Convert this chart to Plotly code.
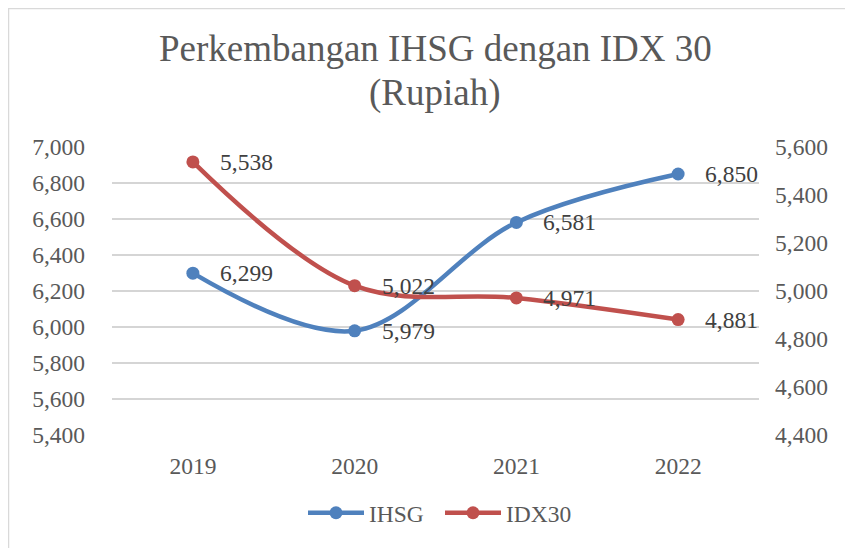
import plotly.graph_objects as go

years = ["2019", "2020", "2021", "2022"]
ihsg = [6299, 5979, 6581, 6850]
idx30 = [5538, 5022, 4971, 4881]
left_ticks = [5400, 5600, 5800, 6000, 6200, 6400, 6600, 6800, 7000]
right_ticks = [4400, 4600, 4800, 5000, 5200, 5400, 5600]

BLUE = "#4F81BD"
RED = "#C0504D"
TXT = "#595959"
FONT = "Liberation Serif, Times New Roman, serif"

fig = go.Figure()
fig.add_trace(go.Scatter(
    x=years, y=ihsg, name="IHSG", mode="lines+markers",
    line=dict(color=BLUE, width=4.5, shape="spline", smoothing=1.0),
    marker=dict(color=BLUE, size=13), yaxis="y",
))
fig.add_trace(go.Scatter(
    x=years, y=idx30, name="IDX30", mode="lines+markers",
    line=dict(color=RED, width=4.5, shape="spline", smoothing=1.0),
    marker=dict(color=RED, size=13), yaxis="y2",
))

annotations = []
for i, yv in enumerate(ihsg):
    annotations.append(dict(x=i, y=yv, xref="x", yref="y", text=f"{yv:,}",
                            showarrow=False, xanchor="left", yanchor="middle",
                            xshift=25, font=dict(family=FONT, size=23.5, color="#404040")))
for i, yv in enumerate(idx30):
    annotations.append(dict(x=i, y=yv, xref="x", yref="y2", text=f"{yv:,}",
                            showarrow=False, xanchor="left", yanchor="middle",
                            xshift=25, font=dict(family=FONT, size=23.5, color="#404040")))

# page body adds an 8px offset; figure coordinates = screen - 8
OFF = 8
W, H = 853 - OFF, 548 - OFF
L, T = 112 - OFF, 147 - OFF
R = W - (759 - OFF)
B = H - (435 - OFF)
pw, ph = W - L - R, H - T - B
def px(x):
    return (x - OFF - L) / pw
def py(y):
    return (H - B - (y - OFF)) / ph

annotations.append(dict(x=px(435), y=py(48), xref="paper", yref="paper",
                        text="Perkembangan IHSG dengan IDX 30", showarrow=False,
                        xanchor="center", yanchor="middle",
                        font=dict(family=FONT, size=37, color=TXT)))
annotations.append(dict(x=px(435), y=py(93), xref="paper", yref="paper",
                        text="(Rupiah)", showarrow=False,
                        xanchor="center", yanchor="middle",
                        font=dict(family=FONT, size=37, color=TXT)))

shapes = [
    dict(type="line", xref="paper", yref="paper", x0=px(8.5), x1=px(8.5), y0=py(8), y1=py(560),
         line=dict(color="#D9D9D9", width=1.5)),
    dict(type="line", xref="paper", yref="paper", x0=px(8), x1=px(870), y0=py(8.5), y1=py(8.5),
         line=dict(color="#D9D9D9", width=1.5)),
]

fig.update_layout(
    width=W, height=H,
    margin=dict(l=L, r=R, t=T, b=B),
    paper_bgcolor="white", plot_bgcolor="white",
    font=dict(family=FONT, color=TXT, size=23.5),
    showlegend=True,
    legend=dict(orientation="h", x=px(303), y=py(513), xanchor="left", yanchor="middle",
                font=dict(family=FONT, size=23.5, color=TXT), itemwidth=56,
                entrywidth=66, entrywidthmode="pixels",
                bgcolor="rgba(0,0,0,0)"),
    xaxis=dict(type="category", range=[-0.5, 3.5], showgrid=False, zeroline=False,
               showline=False, ticks="", ticklabelstandoff=14,
               tickfont=dict(family=FONT, size=23.5, color=TXT)),
    yaxis=dict(range=[5400, 7000], tickvals=left_ticks, tickformat=",",
               showgrid=True, gridcolor="#D5D5D5", gridwidth=1.6, zeroline=False,
               showline=False, ticks="", ticklabelstandoff=26,
               tickfont=dict(family=FONT, size=23.5, color=TXT)),
    yaxis2=dict(range=[4400, 5600], tickvals=right_ticks, tickformat=",",
                overlaying="y", side="right", showgrid=False, zeroline=False,
                showline=False, ticks="", ticklabelstandoff=15,
                tickfont=dict(family=FONT, size=23.5, color=TXT)),
    annotations=annotations,
    shapes=shapes,
)

fig.write_html("out.html")
